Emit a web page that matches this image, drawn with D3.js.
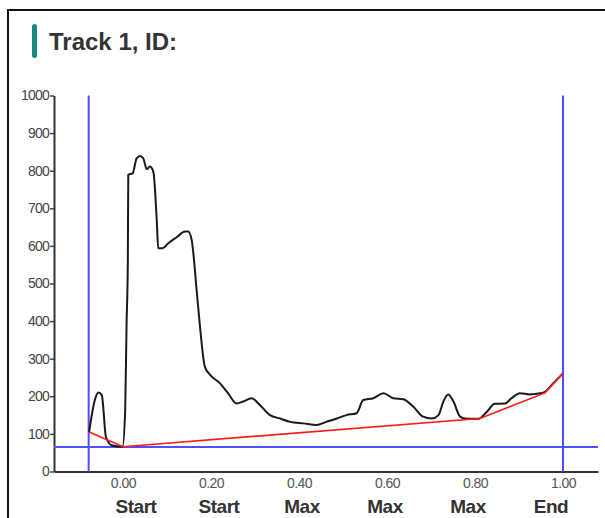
<!DOCTYPE html>
<html>
<head>
<meta charset="utf-8">
<script src="https://cdn.jsdelivr.net/npm/d3@7"></script>
<style>
  html, body { margin: 0; padding: 0; background: #fff; overflow: hidden; }
  svg { display: block; font-family: "Liberation Sans", Arial, sans-serif; }
</style>
</head>
<body>
<svg id="chart" width="605" height="518"></svg>
<script>
// ---- data ----
const titleText = "Track 1, ID:";
const profileX = [-0.077, -0.064, -0.056, -0.048, -0.045, -0.039, -0.026, -0.001, 0.005, 0.008, 0.011, 0.012,
  0.022, 0.031, 0.039, 0.046, 0.054, 0.061, 0.069, 0.077, 0.080, 0.090, 0.103, 0.122, 0.141, 0.148, 0.156,
  0.168, 0.175, 0.186, 0.198, 0.220, 0.239, 0.258, 0.273, 0.292, 0.311, 0.334, 0.357, 0.380, 0.410, 0.440,
  0.462, 0.486, 0.508, 0.531, 0.546, 0.569, 0.592, 0.614, 0.637, 0.660, 0.682, 0.702, 0.717, 0.728, 0.739,
  0.751, 0.766, 0.781, 0.808, 0.827, 0.845, 0.868, 0.883, 0.902, 0.925, 0.948, 0.959, 0.978, 1.000];
const profileY = [105, 190, 210, 203, 172, 93, 70, 66, 164, 385, 562, 789,
  793, 833, 839, 833, 804, 811, 797, 661, 594, 594, 607, 623, 638, 638, 616,
  474, 385, 279, 257, 235, 208, 181, 186, 195, 177, 150, 141, 132, 128, 124,
  132, 141, 150, 155, 190, 195, 208, 195, 192, 172, 146, 141, 150, 186, 205,
  186, 146, 140, 140, 159, 180, 181, 195, 208, 205, 208, 212, 235, 261];
const baseX = [-0.077, 0.000, 0.811, 0.959, 1.000];
const baseY = [105, 66, 141, 209, 261];
const markerX = [-0.078, 1.0];
const thresholdY = 65;
const xDomain = [-0.1568, 1.0795];
const yDomain = [0, 1000];
const xTicks = [0, 0.2, 0.4, 0.6, 0.8, 1.0];
const yTicks = [0, 100, 200, 300, 400, 500, 600, 700, 800, 900, 1000];
const pointLabels = ["Start", "Start", "Max", "Max", "Max", "End"];

// ---- drawing ----
const svg = d3.select("#chart");

// frame
svg.append("rect").attr("x", 8).attr("y", 10).attr("width", 700).attr("height", 600)
  .attr("fill", "#fff").attr("stroke", "#111").attr("stroke-width", 2);

// title
svg.append("rect").attr("x", 32).attr("y", 24).attr("width", 5).attr("height", 34)
  .attr("rx", 2.5).attr("fill", "#138a82");
svg.append("text").attr("x", 49).attr("y", 50).attr("font-size", 24).attr("font-weight", "bold")
  .attr("fill", "#333").text(titleText);

const x = d3.scaleLinear().domain(xDomain).range([54, 598]);
const y = d3.scaleLinear().domain(yDomain).range([471.5, 95.5]);

// axes
const yAxis = svg.append("g").attr("transform", "translate(54,0)")
  .call(d3.axisLeft(y).tickValues(yTicks).tickFormat(d3.format("d")).tickSize(4).tickPadding(1).tickSizeOuter(0));
yAxis.selectAll("text").attr("font-size", 14).attr("fill", "#444").attr("letter-spacing", -0.8)
  .attr("font-family", "Liberation Sans, Arial, sans-serif");
yAxis.selectAll("line").attr("stroke", "#444").attr("stroke-width", 1.5);
yAxis.select(".domain").attr("stroke", "#333").attr("stroke-width", 2);

const xAxis = svg.append("g").attr("transform", "translate(0,471.5)")
  .call(d3.axisBottom(x).tickValues(xTicks).tickFormat(d3.format(".2f")).tickSize(0).tickPadding(7).tickSizeOuter(0));
xAxis.selectAll("text").attr("font-size", 14).attr("fill", "#555").attr("letter-spacing", -0.5)
  .attr("font-family", "Liberation Sans, Arial, sans-serif");
xAxis.select(".domain").attr("stroke", "#333").attr("stroke-width", 2);

// blue marker lines
svg.selectAll("line.marker").data(markerX).enter().append("line")
  .attr("class", "marker")
  .attr("x1", d => x(d)).attr("x2", d => x(d))
  .attr("y1", y(yDomain[1])).attr("y2", y(yDomain[0]))
  .attr("stroke", "#4f4fff").attr("stroke-width", 2);
svg.append("line")
  .attr("x1", x(xDomain[0])).attr("x2", x(xDomain[1]))
  .attr("y1", y(thresholdY)).attr("y2", y(thresholdY))
  .attr("stroke", "#4f4fff").attr("stroke-width", 2);

// profile (black)
const profile = profileX.map((v, i) => [v, profileY[i]]);
svg.append("path").datum(profile)
  .attr("fill", "none").attr("stroke", "#1a1a1a").attr("stroke-width", 2)
  .attr("stroke-linejoin", "round")
  .attr("d", d3.line().x(d => x(d[0])).y(d => y(d[1])).curve(d3.curveMonotoneX));

// baseline (red)
const base = baseX.map((v, i) => [v, baseY[i]]);
svg.append("path").datum(base)
  .attr("fill", "none").attr("stroke", "#ff1a1a").attr("stroke-width", 1.6)
  .attr("d", d3.line().x(d => x(d[0])).y(d => y(d[1])));

// bottom labels
const lx = d3.scalePoint().domain(d3.range(pointLabels.length)).range([136, 551]);
svg.selectAll("text.plabel").data(pointLabels).enter().append("text")
  .attr("class", "plabel")
  .attr("x", (d, i) => lx(i)).attr("y", 513)
  .attr("text-anchor", "middle").attr("font-size", 19).attr("font-weight", "bold")
  .attr("fill", "#333").attr("letter-spacing", -0.5)
  .text(d => d);
</script>
</body>
</html>
